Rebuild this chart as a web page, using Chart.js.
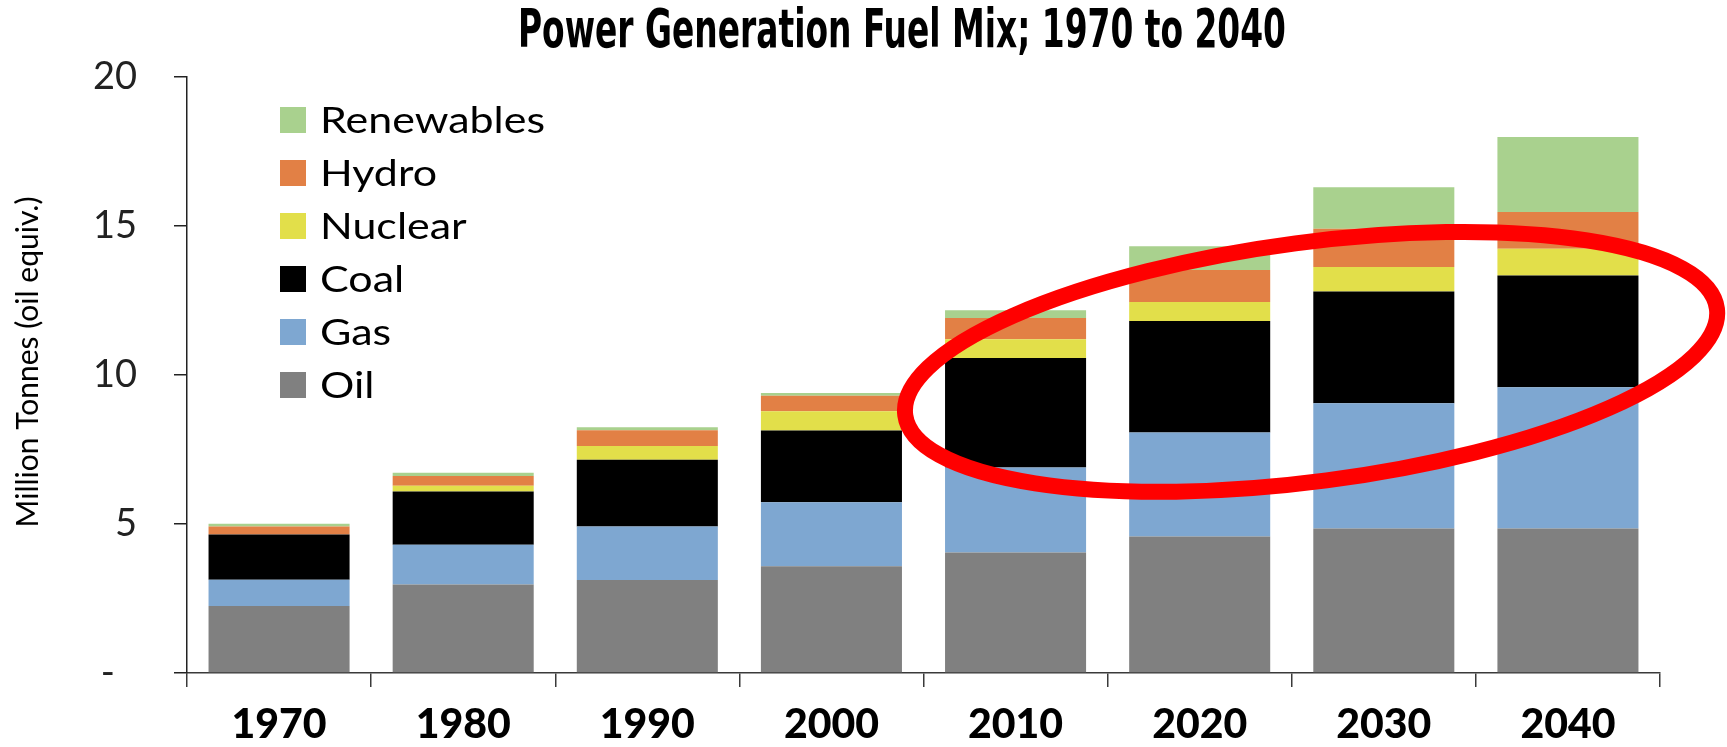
<!DOCTYPE html>
<html>
<head>
<meta charset="utf-8">
<script src="https://cdn.jsdelivr.net/npm/chart.js@4.4.1/dist/chart.umd.min.js"></script>
<style>
html,body{margin:0;padding:0;background:#fff;overflow:hidden}
#wrap{width:1727px;height:747px;position:relative}
canvas{display:block}
</style>
</head>
<body>
<div id="wrap"><canvas id="c" width="1727" height="747"></canvas></div>
<script>
// ---- data (Million Tonnes oil equiv.) ----
const categories = ['1970', '1980', '1990', '2000', '2010', '2020', '2030', '2040'];
const oil        = [2.25, 2.97, 3.12, 3.58, 4.04, 4.58, 4.85, 4.85];
const gas        = [0.88, 1.33, 1.80, 2.15, 2.86, 3.49, 4.20, 4.74];
const coal       = [1.52, 1.79, 2.24, 2.41, 3.67, 3.74, 3.75, 3.75];
const nuclear    = [0.00, 0.19, 0.46, 0.64, 0.63, 0.64, 0.82, 0.90];
const hydro      = [0.27, 0.33, 0.53, 0.52, 0.71, 1.07, 1.29, 1.23];
const renewables = [0.09, 0.11, 0.10, 0.10, 0.26, 0.80, 1.39, 2.52];
const seriesNames = ['Oil', 'Gas', 'Coal', 'Nuclear', 'Hydro', 'Renewables'];
const seriesColors = ['#808080', '#7EA7D1', '#000000', '#E2DF4A', '#E28045', '#A9D18E'];
const yTickValues = [0, 5, 10, 15, 20];
const yTickLabels = ['-\u2007', '5', '10', '15', '20'];
const chartTitle = 'Power Generation Fuel Mix; 1970 to 2040';
const yAxisTitle = 'Million Tonnes (oil equiv.)';

// highlight ellipse (in data units: category index / value)
const ellipseCenterCat = 5.605;
const ellipseCenterVal = 10.44;
const ellipseHalfWidthCats = 2.223;
const ellipseHalfHeightVals = 4.01;
const ellipseAngleDeg = -7.48;

const seriesValues = [oil, gas, coal, nuclear, hydro, renewables];

const decorPlugin = {
  id: 'decor',
  afterDatasetsDraw(chart) {
    const ctx = chart.ctx;
    const xs = chart.scales.x, ys = chart.scales.y;
    const cx = xs.getPixelForValue(ellipseCenterCat);
    const cy = ys.getPixelForValue(ellipseCenterVal);
    const catPx = xs.getPixelForValue(1) - xs.getPixelForValue(0);
    const valPx = ys.getPixelForValue(0) - ys.getPixelForValue(1);
    ctx.save();
    ctx.beginPath();
    ctx.ellipse(cx, cy, ellipseHalfWidthCats * catPx, ellipseHalfHeightVals * valPx,
                ellipseAngleDeg * Math.PI / 180, 0, Math.PI * 2);
    ctx.lineWidth = 16;
    ctx.strokeStyle = '#FF0000';
    ctx.stroke();
    ctx.restore();
  },
  afterDraw(chart) {
    const ctx = chart.ctx;
    // title (condensed bold)
    ctx.save();
    ctx.font = 'bold 54px "Liberation Sans Narrow", "DejaVu Sans Condensed", "Liberation Sans", sans-serif';
    ctx.fillStyle = '#000';
    ctx.textBaseline = 'alphabetic';
    ctx.textAlign = 'center';
    const tw = ctx.measureText(chartTitle).width;
    const sx = 768 / tw;
    ctx.translate(902, 47);
    ctx.scale(sx, 1);
    ctx.fillText(chartTitle, 0, 0);
    ctx.restore();

    // y axis title
    ctx.save();
    ctx.font = '30px Lato, "Noto Sans", sans-serif';
    ctx.fillStyle = '#000';
    ctx.textAlign = 'center';
    ctx.textBaseline = 'middle';
    ctx.translate(28, 362);
    ctx.rotate(-Math.PI / 2);
    ctx.fillText(yAxisTitle, 0, 0);
    ctx.restore();

    // legend (reverse order, inside plot)
    ctx.save();
    ctx.font = '37px Lato, "Noto Sans", sans-serif';
    ctx.textBaseline = 'middle';
    ctx.textAlign = 'left';
    const ref = ctx.measureText('Renewables').width;
    const lsx = 225 / ref;
    const ds = chart.data.datasets;
    for (let k = 0; k < ds.length; k++) {
      const d = ds[ds.length - 1 - k];
      const yc = 120 + 53 * k;
      ctx.fillStyle = d.backgroundColor;
      ctx.fillRect(280, yc - 13, 26, 26);
      ctx.fillStyle = '#000';
      ctx.save();
      ctx.translate(320, yc + 1);
      ctx.scale(lsx, 1);
      ctx.fillText(d.label, 0, 0);
      ctx.restore();
    }
    ctx.restore();
  }
};

new Chart(document.getElementById('c'), {
  type: 'bar',
  data: {
    labels: categories,
    datasets: seriesNames.map((n, i) => ({
      label: n,
      data: seriesValues[i],
      backgroundColor: seriesColors[i],
      borderWidth: 0,
      barPercentage: 0.766,
      categoryPercentage: 1.0
    }))
  },
  options: {
    responsive: false,
    animation: false,
    devicePixelRatio: 1,
    layout: { padding: { top: 77, right: 67, left: 0, bottom: 0 } },
    plugins: {
      legend: { display: false },
      title: { display: false },
      tooltip: { enabled: false }
    },
    scales: {
      x: {
        stacked: true,
        offset: true,
        grid: { offset: true, drawOnChartArea: false, drawTicks: true, tickLength: 14, color: '#3a3a3a', lineWidth: 1.5 },
        border: { display: true, color: '#3a3a3a', width: 1.5 },
        ticks: { color: '#000', font: { family: 'Lato, "Noto Sans", sans-serif', size: 41, weight: '900' }, padding: 13, maxRotation: 0 },
        afterFit(s) { s.height = 74; }
      },
      y: {
        stacked: true,
        min: 0, max: 20,
        afterBuildTicks(s) { s.ticks = yTickValues.map(v => ({ value: v })); },
        grid: { drawOnChartArea: false, drawTicks: true, tickLength: 13, color: '#222', lineWidth: 1.5 },
        border: { display: true, color: '#222', width: 1.5 },
        ticks: {
          color: '#222',
          font: { family: 'Lato, "Noto Sans", sans-serif', size: 38 },
          padding: 37,
          callback(v) { const i = yTickValues.indexOf(v); return i >= 0 ? yTickLabels[i] : ''; }
        },
        afterFit(s) { s.width = 187; }
      }
    }
  },
  plugins: [decorPlugin]
});
</script>
</body>
</html>
